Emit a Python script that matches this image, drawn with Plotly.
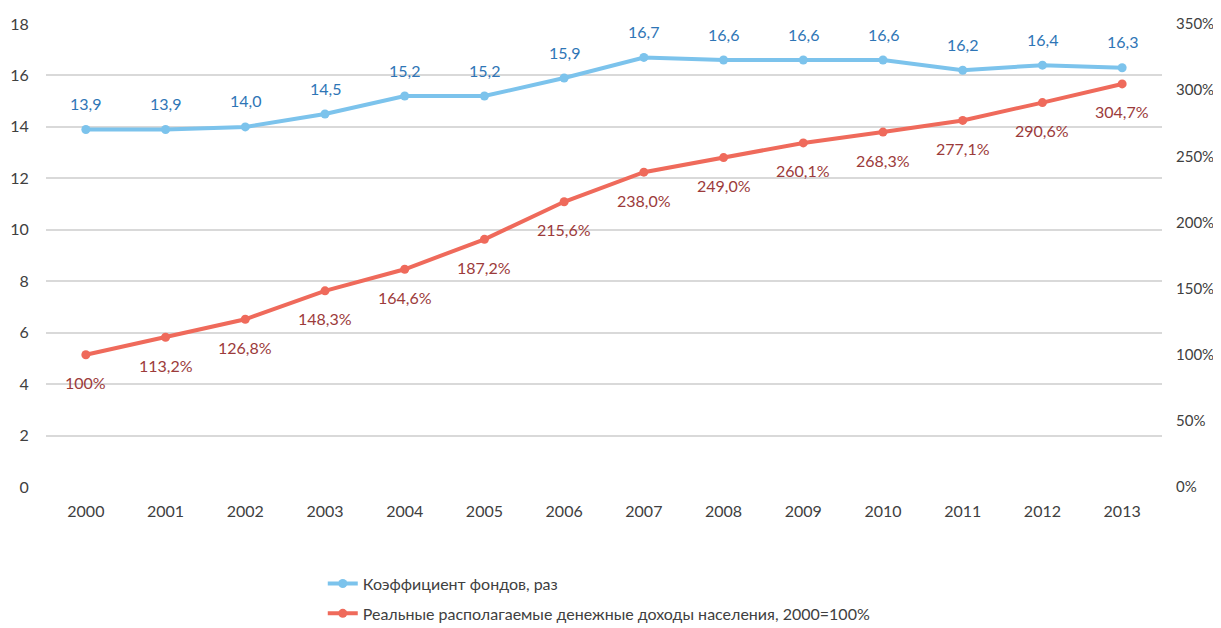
import plotly.graph_objects as go

years = ["2000", "2001", "2002", "2003", "2004", "2005", "2006", "2007",
         "2008", "2009", "2010", "2011", "2012", "2013"]
coef = [13.9, 13.9, 14.0, 14.5, 15.2, 15.2, 15.9, 16.7, 16.6, 16.6, 16.6, 16.2, 16.4, 16.3]
income = [100, 113.2, 126.8, 148.3, 164.6, 187.2, 215.6, 238.0, 249.0, 260.1, 268.3, 277.1, 290.6, 304.7]

name1 = "Коэффициент фондов, раз"
name2 = "Реальные располагаемые денежные доходы населения, 2000=100%"

blue_line = "#7cc3ec"
blue_text = "#2e75b6"
red_line = "#ef6a5b"
red_text = "#9c3b3b"
FONT = "Lato"
FS = 16


def fmt(v, pct=False):
    if pct and v == 100:
        return "100%"
    s = f"{v:.1f}".replace(".", ",")
    return s + ("%" if pct else "")


fig = go.Figure()
fig.add_trace(go.Scatter(
    x=years, y=coef, name=name1, mode="lines+markers", legendgroup="a",
    line=dict(color=blue_line, width=4), marker=dict(color=blue_line, size=9),
))
fig.add_trace(go.Scatter(
    x=years, y=income, name=name2, mode="lines+markers", yaxis="y2", legendgroup="b",
    line=dict(color=red_line, width=4), marker=dict(color=red_line, size=9),
))

annotations = []
for i, v in enumerate(coef):
    annotations.append(dict(x=i, y=v, xref="x", yref="y", text=fmt(v),
                            showarrow=False, yshift=26,
                            font=dict(color=blue_text, size=FS, family=FONT)))
for i, v in enumerate(income):
    annotations.append(dict(x=i, y=v, xref="x", yref="y2", text=fmt(v, True),
                            showarrow=False, yshift=-28,
                            font=dict(color=red_text, size=FS, family=FONT)))

fig.update_layout(
    width=1213, height=620,
    margin=dict(l=38, r=59, t=16, b=141, autoexpand=False),
    paper_bgcolor="white", plot_bgcolor="white",
    font=dict(family=FONT, size=FS, color="#404040"),
    showlegend=True,
    legend=dict(orientation="v", x=0.248, xanchor="left", y=-0.172, yanchor="top",
                font=dict(size=FS, color="#404040"), tracegroupgap=6,
                bgcolor="rgba(0,0,0,0)"),
    xaxis=dict(type="category", range=[-0.5, 13.5], showgrid=False, zeroline=False,
               showline=False, ticks="outside", ticklen=10, tickcolor="rgba(0,0,0,0)"),
    yaxis=dict(range=[0, 18], dtick=2, showgrid=True, gridcolor="#d9d9d9", gridwidth=1.5,
               zeroline=False, showline=False, ticks="outside", ticklen=13,
               tickcolor="rgba(0,0,0,0)"),
    yaxis2=dict(range=[0, 350], dtick=50, ticksuffix="%", overlaying="y", side="right",
                showgrid=False, zeroline=False, showline=False, ticks="outside",
                ticklen=10, tickcolor="rgba(0,0,0,0)", tickfont=dict(size=15)),
    annotations=annotations,
)

fig.write_html("out.html")
